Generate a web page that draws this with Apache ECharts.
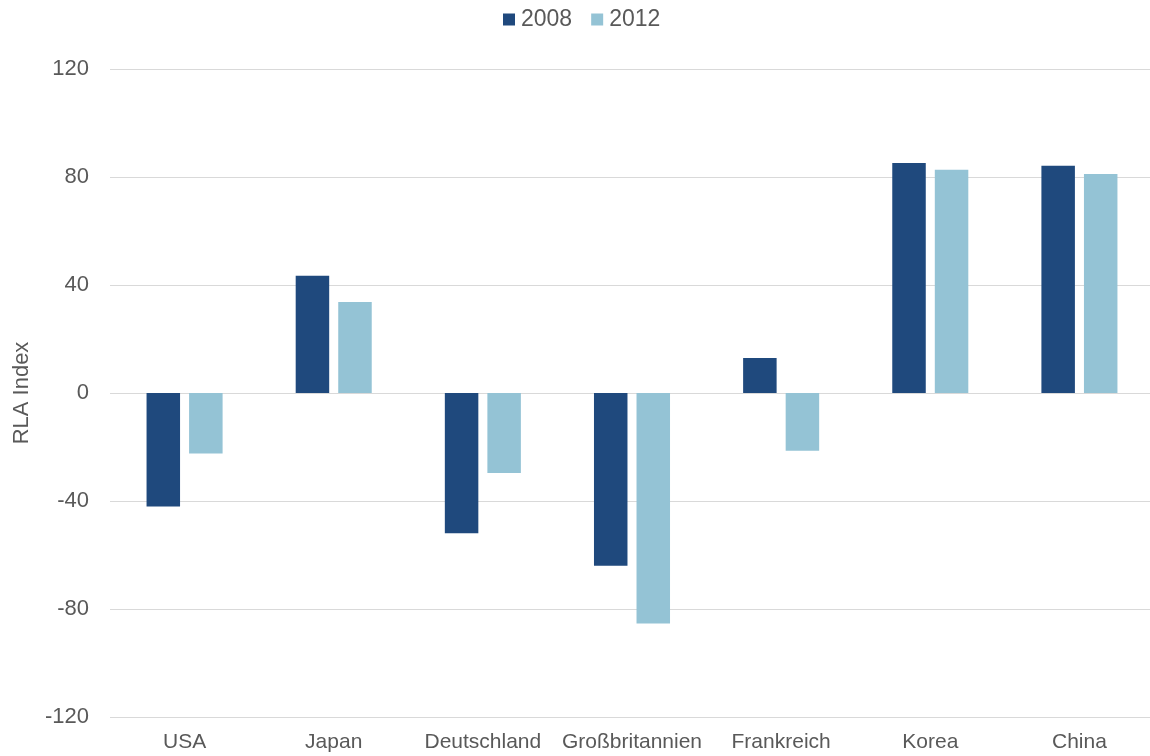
<!DOCTYPE html>
<html>
<head>
<meta charset="utf-8">
<script src="https://cdn.jsdelivr.net/npm/echarts@6/dist/echarts.min.js"></script>
<style>
html,body{margin:0;padding:0;background:#fff;overflow:hidden;width:1150px;height:756px;}
#chart{width:1154px;height:756px;}
</style>
</head>
<body>
<div id="chart"></div>
<script>
const categories = ['USA', 'Japan', 'Deutschland', 'Großbritannien', 'Frankreich', 'Korea', 'China'];
const seriesNames = ['2008', '2012'];
const values2008 = [-42, 43.4, -51.9, -64, 13, 85.2, 84.2];
const values2012 = [-22.4, 33.7, -29.6, -85.4, -21.4, 82.7, 81.1];
const yAxisTitle = 'RLA Index';

const textColor = '#595959';
const font = '"Liberation Sans", Arial, sans-serif';

const chart = echarts.init(document.getElementById('chart'), null, {renderer: 'canvas'});
chart.setOption({
  animation: false,
  backgroundColor: '#ffffff',
  textStyle: {fontFamily: font, color: textColor},
  legend: {
    data: seriesNames,
    left: 503,
    top: 8,
    padding: 0,
    itemWidth: 12,
    itemHeight: 12,
    itemGap: 19,
    icon: 'rect',
    textStyle: {fontFamily: font, fontSize: 23, color: textColor, padding: [0, 0, 0, 1]}
  },
  grid: {left: 110, right: 0, top: 69, bottom: 39, containLabel: false},
  xAxis: {
    type: 'category',
    data: categories,
    axisLine: {show: false},
    axisTick: {show: false},
    axisLabel: {fontFamily: font, fontSize: 21, color: textColor, margin: 15, interval: 0}
  },
  yAxis: {
    type: 'value',
    min: -120,
    max: 120,
    interval: 40,
    name: yAxisTitle,
    nameLocation: 'middle',
    nameGap: 77,
    nameTextStyle: {fontFamily: font, fontSize: 22, color: textColor},
    axisLine: {show: false},
    axisTick: {show: false},
    axisLabel: {fontFamily: font, fontSize: 22, color: textColor, margin: 21},
    splitLine: {lineStyle: {color: '#D9D9D9', width: 1.2}}
  },
  series: [
    {
      name: seriesNames[0],
      type: 'bar',
      data: values2008,
      barWidth: 33.5,
      barGap: '27%',
      itemStyle: {color: '#1F497D'}
    },
    {
      name: seriesNames[1],
      type: 'bar',
      data: values2012,
      barWidth: 33.5,
      barGap: '27%',
      itemStyle: {color: '#94C3D5'}
    }
  ]
});
</script>
</body>
</html>
